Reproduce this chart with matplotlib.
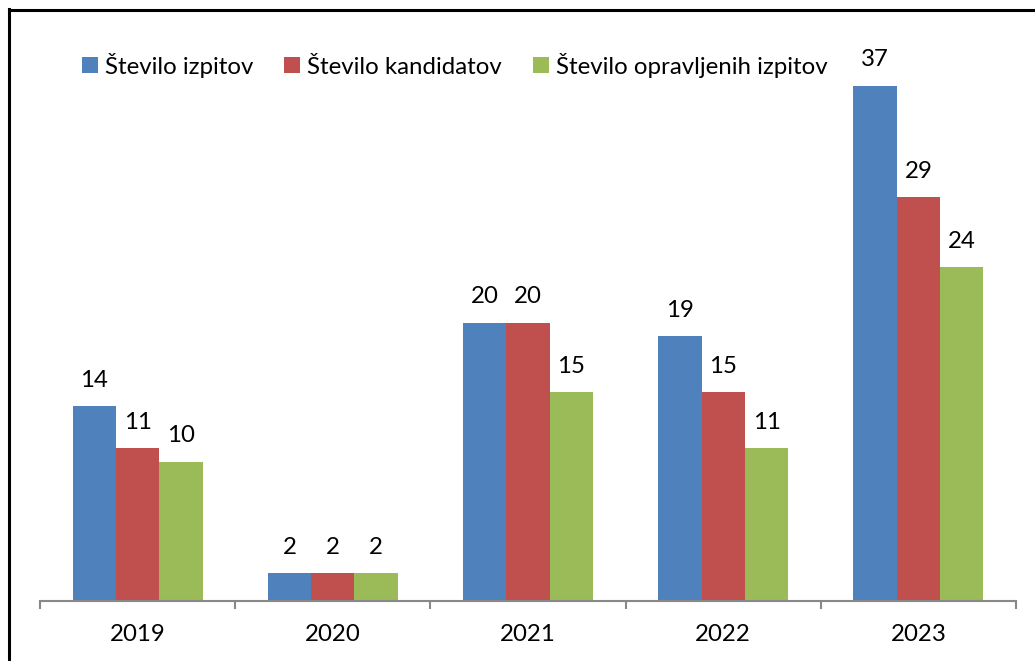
import numpy as np
import matplotlib.pyplot as plt
from matplotlib.lines import Line2D

years = ["2019", "2020", "2021", "2022", "2023"]
series_names = ["Število izpitov", "Število kandidatov", "Število opravljenih izpitov"]
izpiti = [14, 2, 20, 19, 37]
kandidati = [11, 2, 20, 15, 29]
opravljeni = [10, 2, 15, 11, 24]
colors = ["#4F81BD", "#C0504D", "#9BBB59"]

plt.rcParams['font.family'] = ['Lato', 'DejaVu Sans']
FS = 17.3

fig = plt.figure(figsize=(10.35, 6.61), dpi=100)
ax = fig.add_axes([40 / 1035, 1 - 601 / 661, 976 / 1035, 557 / 661])

x = np.arange(len(years))
w = 1 / 4.5  # gap 150%
for i, (vals, c, name) in enumerate(zip([izpiti, kandidati, opravljeni], colors, series_names)):
    pos = x + (i - 1) * w
    ax.bar(pos, vals, width=w, color=c, label=name, linewidth=0)
    for p, v in zip(pos, vals):
        ax.annotate(str(v), (p, v), xytext=(0, 11), textcoords="offset points",
                    ha="center", va="bottom", fontsize=FS, color="black")

ax.set_xlim(-0.5, len(years) - 0.5)
ax.set_ylim(0, 40)
ax.set_yticks([])
for s in ["top", "right", "left"]:
    ax.spines[s].set_visible(False)
ax.spines["bottom"].set_color("#888888")
ax.spines["bottom"].set_linewidth(1.5)
ax.set_xticks(x)
ax.set_xticklabels(years, fontsize=FS)
ax.tick_params(axis="x", which="major", length=0, pad=16.5)
ax.set_xticks(np.arange(len(years) + 1) - 0.5, minor=True)
ax.tick_params(axis="x", which="minor", length=6, width=1.5, color="#888888")

ax.legend(loc="center left", bbox_to_anchor=(82 / 1035, 1 - 65 / 661),
          bbox_transform=fig.transFigure, ncol=3, frameon=False, fontsize=FS,
          handlelength=0.65, handleheight=0.65, handletextpad=0.3,
          columnspacing=1.3, borderaxespad=0, borderpad=0)

# border on left and top only
fig.add_artist(Line2D([9 / 1035, 9 / 1035], [0, 1 - 9 / 661], transform=fig.transFigure,
                      color="black", linewidth=2.2))
fig.add_artist(Line2D([9 / 1035, 1], [1 - 10 / 661, 1 - 10 / 661], transform=fig.transFigure,
                      color="black", linewidth=2.2))

fig.savefig("out.png", dpi=100)
